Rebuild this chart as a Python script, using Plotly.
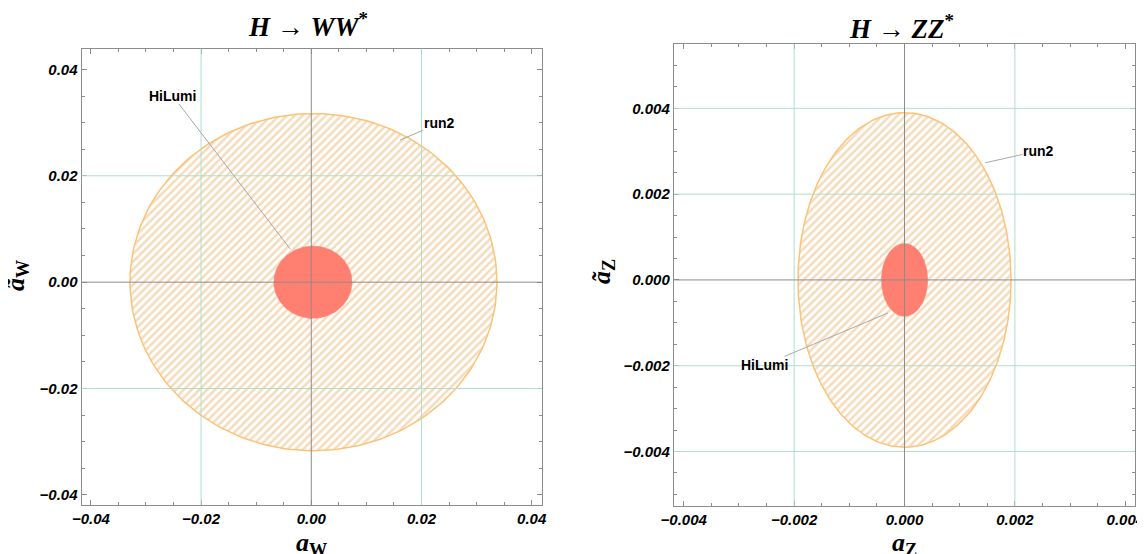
import numpy as np
import plotly.graph_objects as go

# ---------------- data ----------------
# H -> WW* panel
run2_W_center = (0.0004, 0.0)
run2_W_semi = (0.0333, 0.0317)
hilumi_W_center = (0.0003, 0.0)
hilumi_W_semi = (0.0071, 0.0068)

# H -> ZZ* panel
run2_Z_center = (0.0, 0.0)
run2_Z_semi = (0.00193, 0.0039)
hilumi_Z_center = (0.0, 0.0)
hilumi_Z_semi = (0.00042, 0.00085)

ticks_W = [-0.04, -0.02, 0.0, 0.02, 0.04]
ticks_Z = [-0.004, -0.002, 0.0, 0.002, 0.004]
grid_W_x = [-0.02, 0.02]
grid_W_y = [-0.02, 0.02]
grid_Z_x = [-0.002, 0.002]
grid_Z_y = [-0.004, -0.002, 0.002, 0.004]
axis_lines = [0.0]

# label positions (text) and the point on the region they point to
label_W_hilumi = dict(text=(-0.0252, 0.0351), tip=(-0.0038, 0.0062))
label_W_run2 = dict(text=(0.0232, 0.0299), tip=(0.0161, 0.0267))
label_Z_run2 = dict(text=(0.00243, 0.00301), tip=(0.00146, 0.00273))
label_Z_hilumi = dict(text=(-0.00254, -0.00198), tip=(-0.0003, -0.00077))

# ---------------- styles / layout ----------------
W, H = 1145, 554
PAGE_OFFSET = 8  # page body margin in the browser; compensated so the figure sits like the reference

RUN2_LINE = "#FDC276"
RUN2_HATCH = "#EBB673"
HILUMI = "#FF8071"
GRID = "#AEDFCC"
AXIS = "#8C8C8C"
FRAME = "#8C8C8C"
LEADER = "#A8A8A8"


def px_x(p):
    return (p - PAGE_OFFSET) / W


def px_y(p):
    return 1 - (p - PAGE_OFFSET) / H


def ellipse(center, semi, n=241):
    t = np.linspace(0, 2 * np.pi, n)
    return center[0] + semi[0] * np.cos(t), center[1] + semi[1] * np.sin(t)


fig = go.Figure()


def add_regions(xa, ya, run2_c, run2_s, hl_c, hl_s):
    x, y = ellipse(run2_c, run2_s)
    fig.add_trace(go.Scatter(
        x=x, y=y, mode="lines", xaxis=xa, yaxis=ya,
        line=dict(color=RUN2_LINE, width=1.5),
        fill="toself", fillcolor="rgba(255,255,255,0)",
        fillpattern=dict(shape="/", fgcolor=RUN2_HATCH, bgcolor="rgba(255,255,255,0)",
                         size=5.5, solidity=0.45),
        hoverinfo="skip", name="run2"))
    x, y = ellipse(hl_c, hl_s)
    fig.add_trace(go.Scatter(
        x=x, y=y, mode="lines", xaxis=xa, yaxis=ya,
        line=dict(color=HILUMI, width=0.5),
        fill="toself", fillcolor=HILUMI, hoverinfo="skip", name="HiLumi"))


add_regions("x", "y", run2_W_center, run2_W_semi, hilumi_W_center, hilumi_W_semi)
add_regions("x2", "y2", run2_Z_center, run2_Z_semi, hilumi_Z_center, hilumi_Z_semi)

tickfont = dict(family="Liberation Sans", size=15, color="black", weight="bold", style="italic")


def axis(domain, rng, tickvals, fmt, minor_dtick, anchor, standoff):
    return dict(
        domain=domain, range=rng, tickmode="array", tickvals=tickvals, tickformat=fmt,
        ticks="inside", ticklen=5, tickcolor=FRAME, tickwidth=1,
        showline=True, linecolor=FRAME, linewidth=1, mirror="allticks",
        showgrid=False, zeroline=False, layer="above traces", automargin=False,
        minor=dict(dtick=minor_dtick, ticks="inside", ticklen=3, tickcolor=FRAME, showgrid=False),
        tickfont=tickfont, anchor=anchor, fixedrange=True, ticklabelstandoff=standoff,
    )


fig.update_layout(
    width=W, height=H,
    margin=dict(l=0, r=0, t=0, b=0, autoexpand=False),
    paper_bgcolor="white", plot_bgcolor="white",
    showlegend=False,
    xaxis=axis([px_x(81.5), px_x(541.6)], [-0.0417, 0.0418], ticks_W, ".2f", 0.005, "y", 0),
    yaxis=axis([px_y(505), px_y(48.7)], [-0.0419, 0.0439], ticks_W, ".2f", 0.005, "x", 0),
    xaxis2=axis([px_x(673.8), px_x(1134.7)], [-0.00418, 0.00417], ticks_Z, ".3f", 0.0005, "y2", 0),
    yaxis2=axis([px_y(506), px_y(44)], [-0.00527, 0.0055], ticks_Z, ".3f", 0.0005, "x2", 0),
)

shapes = []


def grid_shapes(xref, yref, gx, gy, color):
    for v in gx:
        shapes.append(dict(type="line", xref=xref, yref=f"{yref} domain", x0=v, x1=v, y0=0, y1=1,
                           line=dict(color=color, width=1), layer="above"))
    for v in gy:
        shapes.append(dict(type="line", xref=f"{xref} domain", yref=yref, x0=0, x1=1, y0=v, y1=v,
                           line=dict(color=color, width=1), layer="above"))


grid_shapes("x", "y", grid_W_x, grid_W_y, GRID)
grid_shapes("x2", "y2", grid_Z_x, grid_Z_y, GRID)
grid_shapes("x", "y", axis_lines, axis_lines, AXIS)
grid_shapes("x2", "y2", axis_lines, axis_lines, AXIS)
fig.update_layout(shapes=shapes)

annotations = []
label_font = dict(family="Liberation Sans", size=14, color="black", weight="bold")
for xa, ya, lab, txt in [("x", "y", label_W_hilumi, "HiLumi"), ("x", "y", label_W_run2, "run2"),
                         ("x2", "y2", label_Z_run2, "run2"), ("x2", "y2", label_Z_hilumi, "HiLumi")]:
    annotations.append(dict(
        xref=xa, yref=ya, axref=xa, ayref=ya,
        x=lab["tip"][0], y=lab["tip"][1], ax=lab["text"][0], ay=lab["text"][1],
        text=txt, showarrow=True, arrowhead=0, arrowwidth=1, arrowcolor=LEADER,
        font=label_font, borderpad=0, standoff=0, startstandoff=0))

serif = "Liberation Serif"
title_font = dict(family=serif, size=27, color="black")
axt_font = dict(family=serif, size=26, color="black")
annotations += [
    dict(xref="paper", yref="paper", x=px_x(308), y=px_y(25), text="<b><i>H</i> → <i>WW</i><sup>*</sup></b>",
         showarrow=False, font=title_font, xanchor="center", yanchor="middle"),
    dict(xref="paper", yref="paper", x=px_x(901), y=px_y(27), text="<b><i>H</i> → <i>ZZ</i><sup>*</sup></b>",
         showarrow=False, font=title_font, xanchor="center", yanchor="middle"),
    dict(xref="paper", yref="paper", x=px_x(311), y=px_y(544), text="<b><i>a</i><sub>W</sub></b>",
         showarrow=False, font=axt_font, xanchor="center", yanchor="middle"),
    dict(xref="paper", yref="paper", x=px_x(904), y=px_y(544), text="<b><i>a</i><sub>Z</sub></b>",
         showarrow=False, font=axt_font, xanchor="center", yanchor="middle"),
    dict(xref="paper", yref="paper", x=px_x(17), y=px_y(276), text="<b><i>ã</i><sub>W</sub></b>",
         showarrow=False, textangle=-90, font=axt_font, xanchor="center", yanchor="middle"),
    dict(xref="paper", yref="paper", x=px_x(603), y=px_y(272), text="<b><i>ã</i><sub>Z</sub></b>",
         showarrow=False, textangle=-90, font=axt_font, xanchor="center", yanchor="middle"),
]
fig.update_layout(annotations=annotations)

fig.write_html("out.html")
